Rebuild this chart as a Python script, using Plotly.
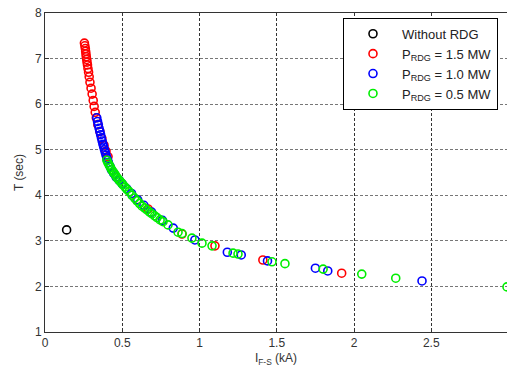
import plotly.graph_objects as go

# Without RDG
x_none = [0.14]
y_none = [3.24]

# P_RDG = 1.5 MW
x_15 = [0.255, 0.258, 0.261, 0.263, 0.265, 0.267, 0.270, 0.272, 0.275, 0.278, 0.282, 0.286,
        0.291, 0.298, 0.305, 0.312, 0.318, 0.325, 0.332, 0.342, 0.355, 0.368, 0.382, 0.395,
        0.408, 0.595, 0.667, 0.887, 1.10, 1.41, 1.92]
y_15 = [7.34, 7.28, 7.22, 7.16, 7.10, 7.04, 6.98, 6.92, 6.86, 6.78, 6.70, 6.60,
        6.48, 6.35, 6.22, 6.08, 5.95, 5.82, 5.70, 5.55, 5.40, 5.25, 5.10, 4.97,
        4.85, 3.90, 3.70, 3.15, 2.89, 2.58, 2.29]

# P_RDG = 1.0 MW
x_10 = [0.335, 0.340, 0.345, 0.350, 0.355, 0.360, 0.365, 0.370, 0.375, 0.380, 0.385, 0.390,
        0.395, 0.400, 0.405, 0.410, 0.420, 0.430, 0.445, 0.46, 0.48, 0.50, 0.53, 0.56,
        0.60, 0.64, 0.69, 0.76, 0.83, 0.97, 1.18, 1.27, 1.44, 1.75, 1.83, 2.44]
y_10 = [5.70, 5.62, 5.55, 5.47, 5.40, 5.33, 5.26, 5.19, 5.12, 5.06, 5.00, 4.94,
        4.88, 4.82, 4.77, 4.72, 4.64, 4.56, 4.48, 4.40, 4.33, 4.25, 4.14, 4.04,
        3.90, 3.78, 3.63, 3.45, 3.28, 3.02, 2.75, 2.69, 2.56, 2.40, 2.34, 2.12]

# P_RDG = 0.5 MW
x_05 = [0.400, 0.408, 0.416, 0.424, 0.432, 0.440, 0.448, 0.456, 0.465, 0.475, 0.485, 0.495,
        0.505, 0.518, 0.530, 0.545, 0.563, 0.580, 0.595, 0.612, 0.628, 0.645, 0.660, 0.677,
        0.693, 0.710, 0.725, 0.745, 0.764, 0.796, 0.861, 0.887, 0.951, 1.016, 1.081, 1.217,
        1.249, 1.469, 1.553, 1.80, 2.05, 2.27, 2.99]
y_05 = [4.77, 4.71, 4.66, 4.61, 4.56, 4.52, 4.48, 4.44, 4.39, 4.35, 4.31, 4.27,
        4.23, 4.18, 4.13, 4.08, 4.00, 3.94, 3.88, 3.82, 3.76, 3.72, 3.68, 3.63,
        3.59, 3.55, 3.51, 3.46, 3.42, 3.35, 3.19, 3.16, 3.06, 2.95, 2.89, 2.73,
        2.71, 2.54, 2.50, 2.38, 2.27, 2.18, 1.99]

x_ticks = [0, 0.5, 1, 1.5, 2, 2.5, 3]
x_ticklabels = ["0", "0.5", "1", "1.5", "2", "2.5", "3"]
y_ticks = [1, 2, 3, 4, 5, 6, 7, 8]

series = [
    ("Without RDG", x_none, y_none, "#000000"),
    ("P<sub>RDG</sub> = 1.5 MW", x_15, y_15, "#ff0000"),
    ("P<sub>RDG</sub> = 1.0 MW", x_10, y_10, "#0000ff"),
    ("P<sub>RDG</sub> = 0.5 MW", x_05, y_05, "#00ee00"),
]

fig = go.Figure()
for name, xs, ys, col in series:
    fig.add_trace(go.Scatter(
        x=xs, y=ys, mode="markers", name=name,
        marker=dict(symbol="circle-open", size=8, color=col, line=dict(width=1.6, color=col)),
    ))

fig.update_layout(
    width=507, height=369,
    margin=dict(l=45, r=0, t=13, b=37),
    paper_bgcolor="white", plot_bgcolor="white",
    font=dict(family="Liberation Sans, Arial, sans-serif", size=12, color="#333333"),
    showlegend=True,
    legend=dict(
        x=0.645, y=0.985, xanchor="left", yanchor="top",
        bgcolor="white", bordercolor="#000000", borderwidth=1,
        font=dict(size=13, color="#222222"),
        itemwidth=48, tracegroupgap=0,
    ),
)
fig.update_xaxes(
    range=[0, 2.99], tickvals=x_ticks, ticktext=x_ticklabels,
    showline=True, linecolor="#333333", linewidth=1, mirror=True,
    ticks="inside", ticklen=4, tickcolor="#333333",
    showgrid=True, gridcolor="#333333", griddash="3px,2px", gridwidth=1,
    zeroline=False,
    title=dict(text="I<sub>F-S</sub> (kA)", standoff=4, font=dict(size=12)),
)
fig.update_yaxes(
    range=[1, 8], tickvals=y_ticks,
    showline=True, linecolor="#333333", linewidth=1, mirror=False,
    ticks="inside", ticklen=4, tickcolor="#333333",
    showgrid=True, gridcolor="#777777", griddash="3px,2px", gridwidth=1,
    zeroline=False,
    title=dict(text="T (sec)", standoff=8, font=dict(size=12)),
)

fig.write_html("out.html")
